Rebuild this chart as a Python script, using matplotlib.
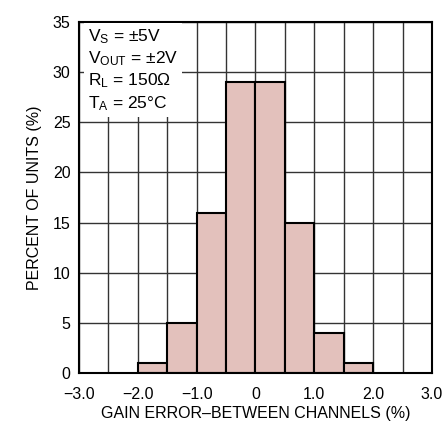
import matplotlib
matplotlib.use('Agg')
import matplotlib.pyplot as plt
from matplotlib import font_manager

names = {f.name for f in font_manager.fontManager.ttflist}
fam = 'Liberation Sans Narrow' if 'Liberation Sans Narrow' in names else 'Liberation Sans'
plt.rcParams['font.family'] = [fam, 'DejaVu Sans']

# histogram bins (%) and percent of units
bin_left = [-2.0, -1.5, -1.0, -0.5, 0.0, 0.5, 1.0, 1.5]
bin_width = 0.5
percent = [1, 5, 16, 29, 29, 15, 4, 1]

x_ticks = [-3.0, -2.0, -1.0, 0, 1.0, 2.0, 3.0]
x_labels = ['\u22123.0', '\u22122.0', '\u22121.0', '0', '1.0', '2.0', '3.0']
y_ticks = [0, 5, 10, 15, 20, 25, 30, 35]

fig = plt.figure(figsize=(4.46, 4.28), dpi=100)
ax = fig.add_axes([79/446, 1 - 373/428, 353/446, 351/428])

ax.bar(bin_left, percent, width=bin_width, align='edge', color='#e3c1bc',
       edgecolor='black', linewidth=1.5, zorder=3)

ax.set_xlim(-3, 3)
ax.set_ylim(0, 35)
for xv in [-3 + 0.5 * i for i in range(13)]:
    ax.axvline(xv, color='#333333', linewidth=1, zorder=1)
for yv in y_ticks:
    ax.axhline(yv, color='#333333', linewidth=1, zorder=1)
ax.set_xticks(x_ticks)
ax.set_xticklabels(x_labels)
ax.set_yticks(y_ticks)
ax.tick_params(length=0, labelsize=11.5)
ax.tick_params(axis='x', pad=10)
ax.tick_params(axis='y', pad=6)
for s in ax.spines.values():
    s.set_linewidth(1.5)
    s.set_zorder(4)

ax.set_xlabel('GAIN ERROR\u2013BETWEEN CHANNELS (%)', fontsize=11.5, labelpad=3)
ax.set_ylabel('PERCENT OF UNITS (%)', fontsize=11.5, labelpad=8)

cond = ('$\\mathregular{V_S}$ = \u00b15V\n'
        '$\\mathregular{V_{OUT}}$ = \u00b12V\n'
        '$\\mathregular{R_L}$ = 150\u03a9\n'
        '$\\mathregular{T_A}$ = 25\u00b0C')
ax.text(0.025, 0.985, cond, transform=ax.transAxes, ha='left', va='top',
        fontsize=12.5, linespacing=1.25, zorder=5,
        bbox=dict(facecolor='white', edgecolor='none', pad=3))

fig.savefig('out.png', dpi=100)
